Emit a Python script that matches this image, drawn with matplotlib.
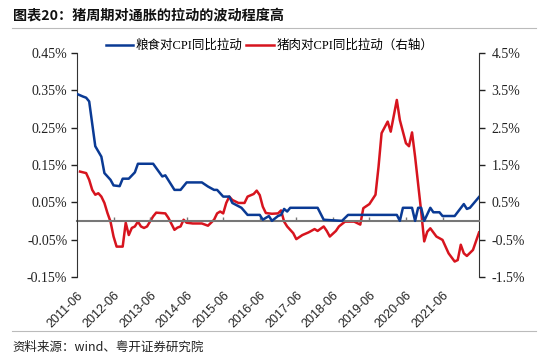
import numpy as np
import pandas as pd
import matplotlib
matplotlib.use("Agg")
import matplotlib.pyplot as plt

plt.rcParams['font.family'] = ['Liberation Serif', 'Noto Sans CJK SC']

# months counted from 2011-06
grain_month = [0, 2, 3, 4, 6, 8, 9, 11, 12, 14, 15, 17, 19, 20, 25, 28, 29, 32, 34, 36,
               41, 43, 45, 46, 48, 50, 51, 54, 56, 60, 61, 63, 64, 66, 67, 68, 69, 70,
               79, 81, 87, 89, 105, 106, 107, 110, 111, 112, 113, 114, 116, 117, 119,
               120, 124, 127, 128, 129, 132]
grain_val = [0.34, 0.333, 0.33, 0.32, 0.20, 0.172, 0.128, 0.11, 0.095, 0.093, 0.113, 0.113,
             0.13, 0.153, 0.153, 0.119, 0.122, 0.083, 0.083, 0.103, 0.103, 0.092, 0.083,
             0.083, 0.065, 0.065, 0.048, 0.035, 0.016, 0.016, 0.003, 0.013, 0.0, 0.013,
             0.016, 0.032, 0.025, 0.035, 0.035, 0.003, 0.0, 0.016, 0.016, 0.0, 0.035,
             0.035, 0.0, 0.035, 0.035, 0.0, 0.035, 0.023, 0.023, 0.013, 0.013, 0.045,
             0.032, 0.035, 0.064]

pork_month = [1, 3, 4, 5, 6, 7, 8, 9, 10, 11, 12, 13, 15, 16, 17, 18, 19, 20, 21, 22, 23,
              25, 26, 29, 30, 32, 33, 34, 35, 36, 38, 41, 43, 45, 46, 47, 48, 49, 50, 51,
              53, 55, 56, 58, 59, 60, 61, 62, 64, 66, 67, 68, 69, 71, 72, 74, 76, 78, 79,
              81, 82, 83, 85, 86, 88, 91, 93, 94, 96, 98, 99, 100, 102, 103, 105, 106,
              108, 109, 110, 111, 113, 114, 115, 116, 118, 120, 122, 124, 125, 126, 127,
              128, 130, 132]
pork_val = [1.32, 1.28, 1.1, 0.83, 0.70, 0.74, 0.65, 0.48, 0.21, -0.02, -0.42, -0.69,
            -0.69, -0.05, -0.38, -0.19, -0.15, -0.02, -0.15, -0.19, -0.15, 0.12, 0.22, 0.2,
            0.08, -0.24, -0.18, -0.15, 0.03, -0.05, -0.07, -0.07, -0.13, 0.03, 0.2, 0.25,
            0.2, 0.48, 0.65, 0.56, 0.48, 0.48, 0.65, 0.72, 0.81, 0.69, 0.38, 0.21, 0.19,
            0.2, 0.28, -0.02, -0.15, -0.33, -0.49, -0.38, -0.31, -0.22, -0.27, -0.15,
            -0.27, -0.42, -0.27, -0.15, -0.02, -0.02, -0.1, 0.34, 0.45, 0.7, 1.45, 2.35,
            2.66, 2.39, 3.24, 2.7, 2.08, 2.0, 2.37, 1.72, 0.25, -0.55, -0.29, -0.2, -0.42,
            -0.51, -0.87, -1.09, -1.05, -0.64, -0.87, -0.94, -0.78, -0.31]

tick_months = list(range(0, 121, 12))
tick_labels = ['2011-06', '2012-06', '2013-06', '2014-06', '2015-06', '2016-06',
               '2017-06', '2018-06', '2019-06', '2020-06', '2021-06']

blue = '#0A3A94'
red = '#D7141E'

fig = plt.figure(figsize=(5.5, 3.6), dpi=100)
ax = fig.add_axes([0.14, 0.231, 0.731, 0.622])
ax2 = ax.twinx()

l1, = ax.plot(grain_month, grain_val, color=blue, lw=1.8, zorder=3)
l2, = ax2.plot(pork_month, pork_val, color=red, lw=1.8, zorder=3)
ax.set_zorder(ax2.get_zorder() + 1)
ax.patch.set_visible(False)

ax.set_xlim(0, 132)
ax.set_ylim(-0.15, 0.45)
ax2.set_ylim(-1.5, 4.5)
ax.set_yticks(np.arange(-0.15, 0.46, 0.1))
ax.set_yticklabels([f'{v:.2f}%' for v in np.arange(-0.15, 0.46, 0.1)])
ax2.set_yticks(np.arange(-1.5, 4.6, 1.0))
ax2.set_yticklabels([f'{v:.1f}%' for v in np.arange(-1.5, 4.6, 1.0)])

ax.set_xticks(tick_months)
ax.set_xticklabels(tick_labels, rotation=45, ha='right', rotation_mode='anchor',
                   family=['Liberation Sans'])
ax.tick_params(axis='x', length=0, pad=9, labelsize=9, labelcolor='#222222')
ax.tick_params(axis='y', direction='out', length=4, width=1, colors='#222222', labelsize=10, pad=3)
ax2.tick_params(axis='y', direction='out', length=4, width=1, colors='#222222', labelsize=10, pad=5)

for a in (ax, ax2):
    for s in ('top', 'bottom'):
        a.spines[s].set_visible(False)
ax.spines['left'].set_color('#333333')
ax2.spines['right'].set_color('#333333')
ax2.spines['left'].set_visible(False)
ax.spines['right'].set_visible(False)

# zero line with tick marks
zax = ax.secondary_xaxis(0.25)
zax.set_xticks(tick_months[1:])
zax.tick_params(axis='x', direction='in', length=3, width=1, colors='#777777', labelbottom=False)
zax.spines['bottom'].set_color('#777777')
zax.spines['bottom'].set_linewidth(1.5)

leg = fig.legend([l1, l2], ['粮食对CPI同比拉动', '猪肉对CPI同比拉动（右轴）'],
                 loc='center', bbox_to_anchor=(0.49, 0.873), ncol=2, frameon=False,
                 fontsize=9, handlelength=2.2, handletextpad=0.2, columnspacing=0.3)

fig.text(0.023, 0.957, '图表20：猪周期对通胀的拉动的波动程度高', fontsize=10.2, fontweight='bold',
         family=['Noto Sans CJK SC'], va='center', ha='left', color='#111111')
fig.add_artist(plt.Line2D([0.022, 0.975], [0.922, 0.922], color='#bbbbbb', lw=0.8))
fig.add_artist(plt.Line2D([0.022, 0.975], [0.081, 0.081], color='#bbbbbb', lw=0.8))
fig.text(0.023, 0.036, '资料来源：wind、粤开证券研究院', fontsize=9, style='italic',
         family=['Noto Sans CJK SC'], va='center', ha='left', color='#222222')

fig.savefig('out.png', dpi=100)
